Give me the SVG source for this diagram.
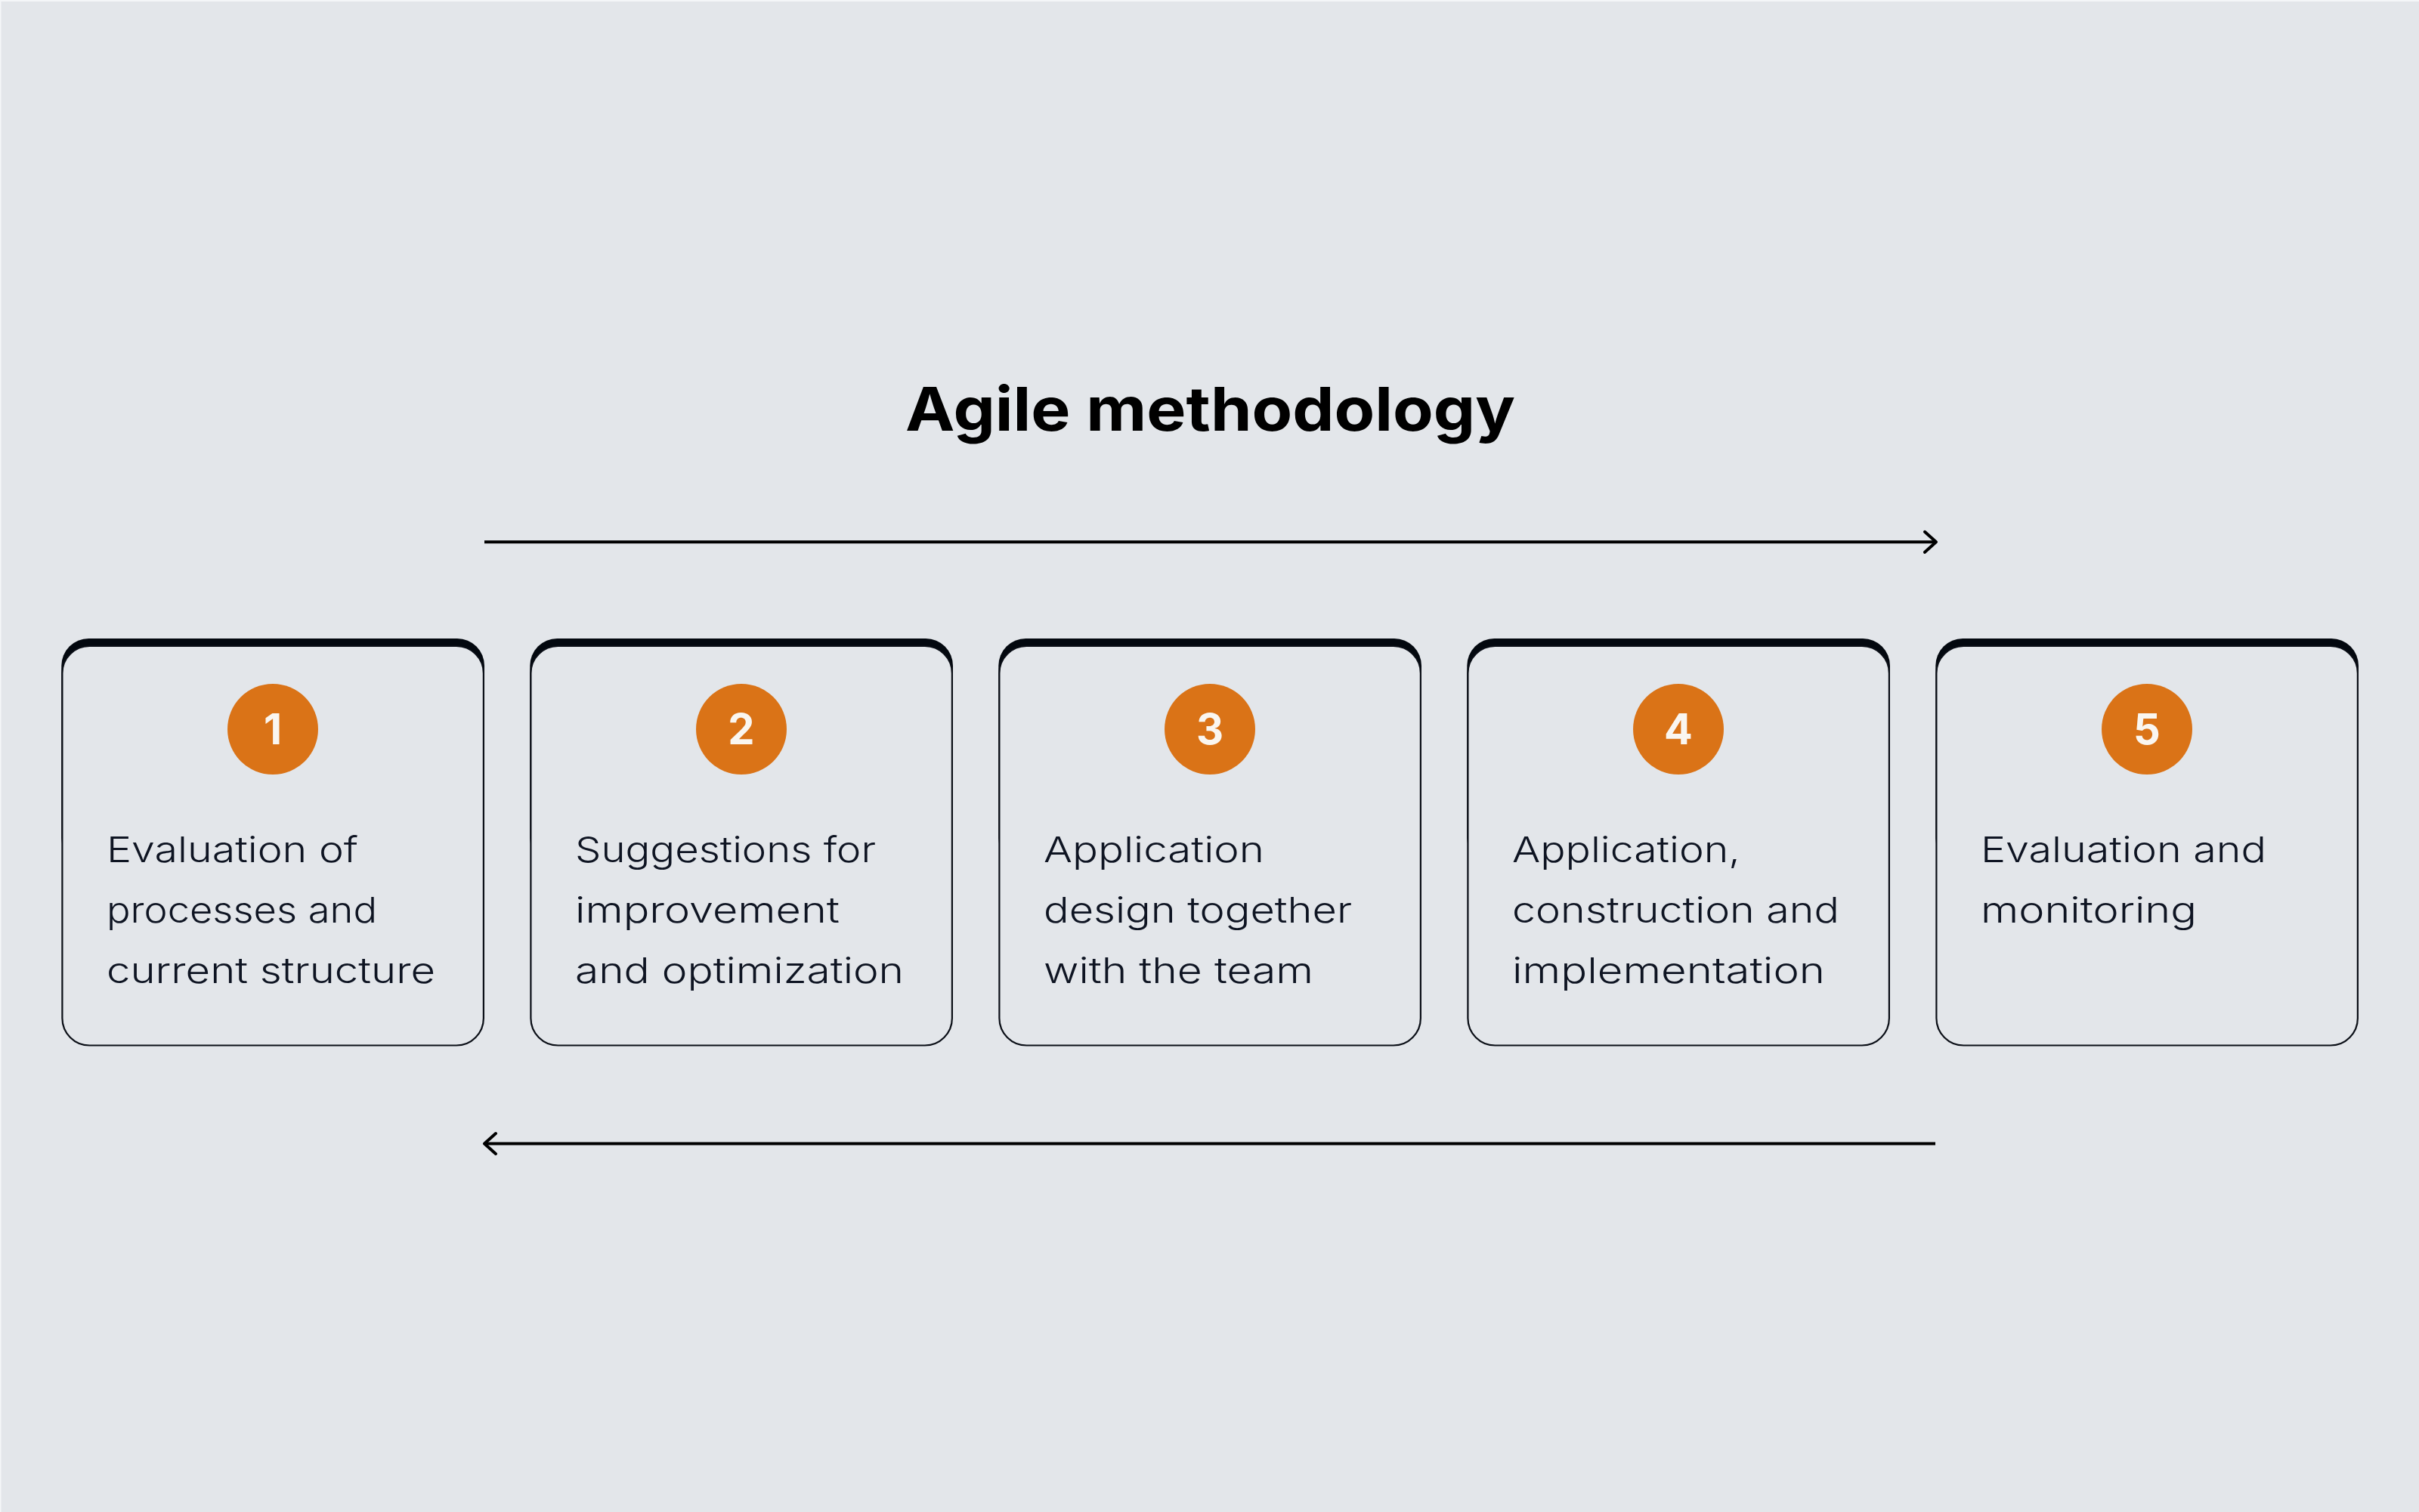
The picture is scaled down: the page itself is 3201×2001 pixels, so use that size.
<svg xmlns="http://www.w3.org/2000/svg" width="3201" height="2001" viewBox="0 0 3201 2001">
  <defs>
    <style>
      .bg { fill: #e3e6ea; }
      .back { fill: #03080f; }
      .card { fill: #e3e6ea; stroke: #0a0e16; stroke-width: 2.2; }
      .badge { fill: #da7317; }
      .num { font-family: Inter, "Open Sans", "DejaVu Sans", sans-serif; font-weight: 700; font-size: 56px; fill: #faf6f0; text-anchor: middle; }
      .body { font-family: Inter, "Open Sans", "DejaVu Sans", sans-serif; font-weight: 300; font-size: 47px; fill: #0e1422; }
      .title { font-family: Inter, "Open Sans", "DejaVu Sans", sans-serif; font-weight: 700; font-size: 80px; fill: #000000; }
      .conn { stroke: #000000; stroke-width: 4; fill: none; }
    </style>
    <marker id="chev" viewBox="-20 -18 26 36" markerWidth="26" markerHeight="36" refX="0" refY="0" markerUnits="userSpaceOnUse" orient="auto-start-reverse">
      <path d="M -15 -13.5 L 0 0 L -15 13.5" fill="none" stroke="#000000" stroke-width="4" stroke-linecap="round" stroke-linejoin="round"/>
    </marker>
  </defs>

  <rect x="0" y="0" width="3201" height="2001" fill="#f4f6f8"/>
  <rect class="bg" x="1.5" y="2" width="3199.5" height="1999"/>

  <g id="title">
    <text class="title" x="1198" y="570" textLength="807" lengthAdjust="spacingAndGlyphs">Agile methodology</text>
  </g>

  <g id="connectors">
    <line class="conn" x1="641" y1="717.3" x2="2562" y2="717.3" marker-end="url(#chev)"/>
    <line class="conn" x1="2561" y1="1513.5" x2="641" y2="1513.5" marker-end="url(#chev)"/>
  </g>

  <g id="step1">
    <rect class="back" x="81.3" y="845" width="559.7" height="300" rx="36"/>
    <rect class="card" x="82.4" y="855" width="557.5" height="528.5" rx="36"/>
    <circle class="badge" cx="361" cy="965" r="60"/>
    <text class="num" x="361" y="985">1</text>
    <text class="body" x="141" y="1141" textLength="333" lengthAdjust="spacingAndGlyphs">Evaluation of</text>
    <text class="body" x="141" y="1221" textLength="358" lengthAdjust="spacingAndGlyphs">processes and</text>
    <text class="body" x="141" y="1301" textLength="435" lengthAdjust="spacingAndGlyphs">current structure</text>
  </g>

  <g id="step2">
    <rect class="back" x="701.3" y="845" width="559.7" height="300" rx="36"/>
    <rect class="card" x="702.4" y="855" width="557.5" height="528.5" rx="36"/>
    <circle class="badge" cx="981" cy="965" r="60"/>
    <text class="num" x="981" y="985">2</text>
    <text class="body" x="761" y="1141" textLength="398" lengthAdjust="spacingAndGlyphs">Suggestions for</text>
    <text class="body" x="761" y="1221" textLength="350" lengthAdjust="spacingAndGlyphs">improvement</text>
    <text class="body" x="761" y="1301" textLength="435" lengthAdjust="spacingAndGlyphs">and optimization</text>
  </g>

  <g id="step3">
    <rect class="back" x="1321.3" y="845" width="559.7" height="300" rx="36"/>
    <rect class="card" x="1322.4" y="855" width="557.5" height="528.5" rx="36"/>
    <circle class="badge" cx="1601" cy="965" r="60"/>
    <text class="num" x="1601" y="985">3</text>
    <text class="body" x="1381" y="1141" textLength="292" lengthAdjust="spacingAndGlyphs">Application</text>
    <text class="body" x="1381" y="1221" textLength="408" lengthAdjust="spacingAndGlyphs">design together</text>
    <text class="body" x="1381" y="1301" textLength="357" lengthAdjust="spacingAndGlyphs">with the team</text>
  </g>

  <g id="step4">
    <rect class="back" x="1941.3" y="845" width="559.7" height="300" rx="36"/>
    <rect class="card" x="1942.4" y="855" width="557.5" height="528.5" rx="36"/>
    <circle class="badge" cx="2221" cy="965" r="60"/>
    <text class="num" x="2221" y="985">4</text>
    <text class="body" x="2001" y="1141" textLength="302" lengthAdjust="spacingAndGlyphs">Application,</text>
    <text class="body" x="2001" y="1221" textLength="433" lengthAdjust="spacingAndGlyphs">construction and</text>
    <text class="body" x="2001" y="1301" textLength="414" lengthAdjust="spacingAndGlyphs">implementation</text>
  </g>

  <g id="step5">
    <rect class="back" x="2561.3" y="845" width="559.7" height="300" rx="36"/>
    <rect class="card" x="2562.4" y="855" width="557.5" height="528.5" rx="36"/>
    <circle class="badge" cx="2841" cy="965" r="60"/>
    <text class="num" x="2841" y="985">5</text>
    <text class="body" x="2621" y="1141" textLength="378" lengthAdjust="spacingAndGlyphs">Evaluation and</text>
    <text class="body" x="2621" y="1221" textLength="286" lengthAdjust="spacingAndGlyphs">monitoring</text>
  </g>
</svg>
